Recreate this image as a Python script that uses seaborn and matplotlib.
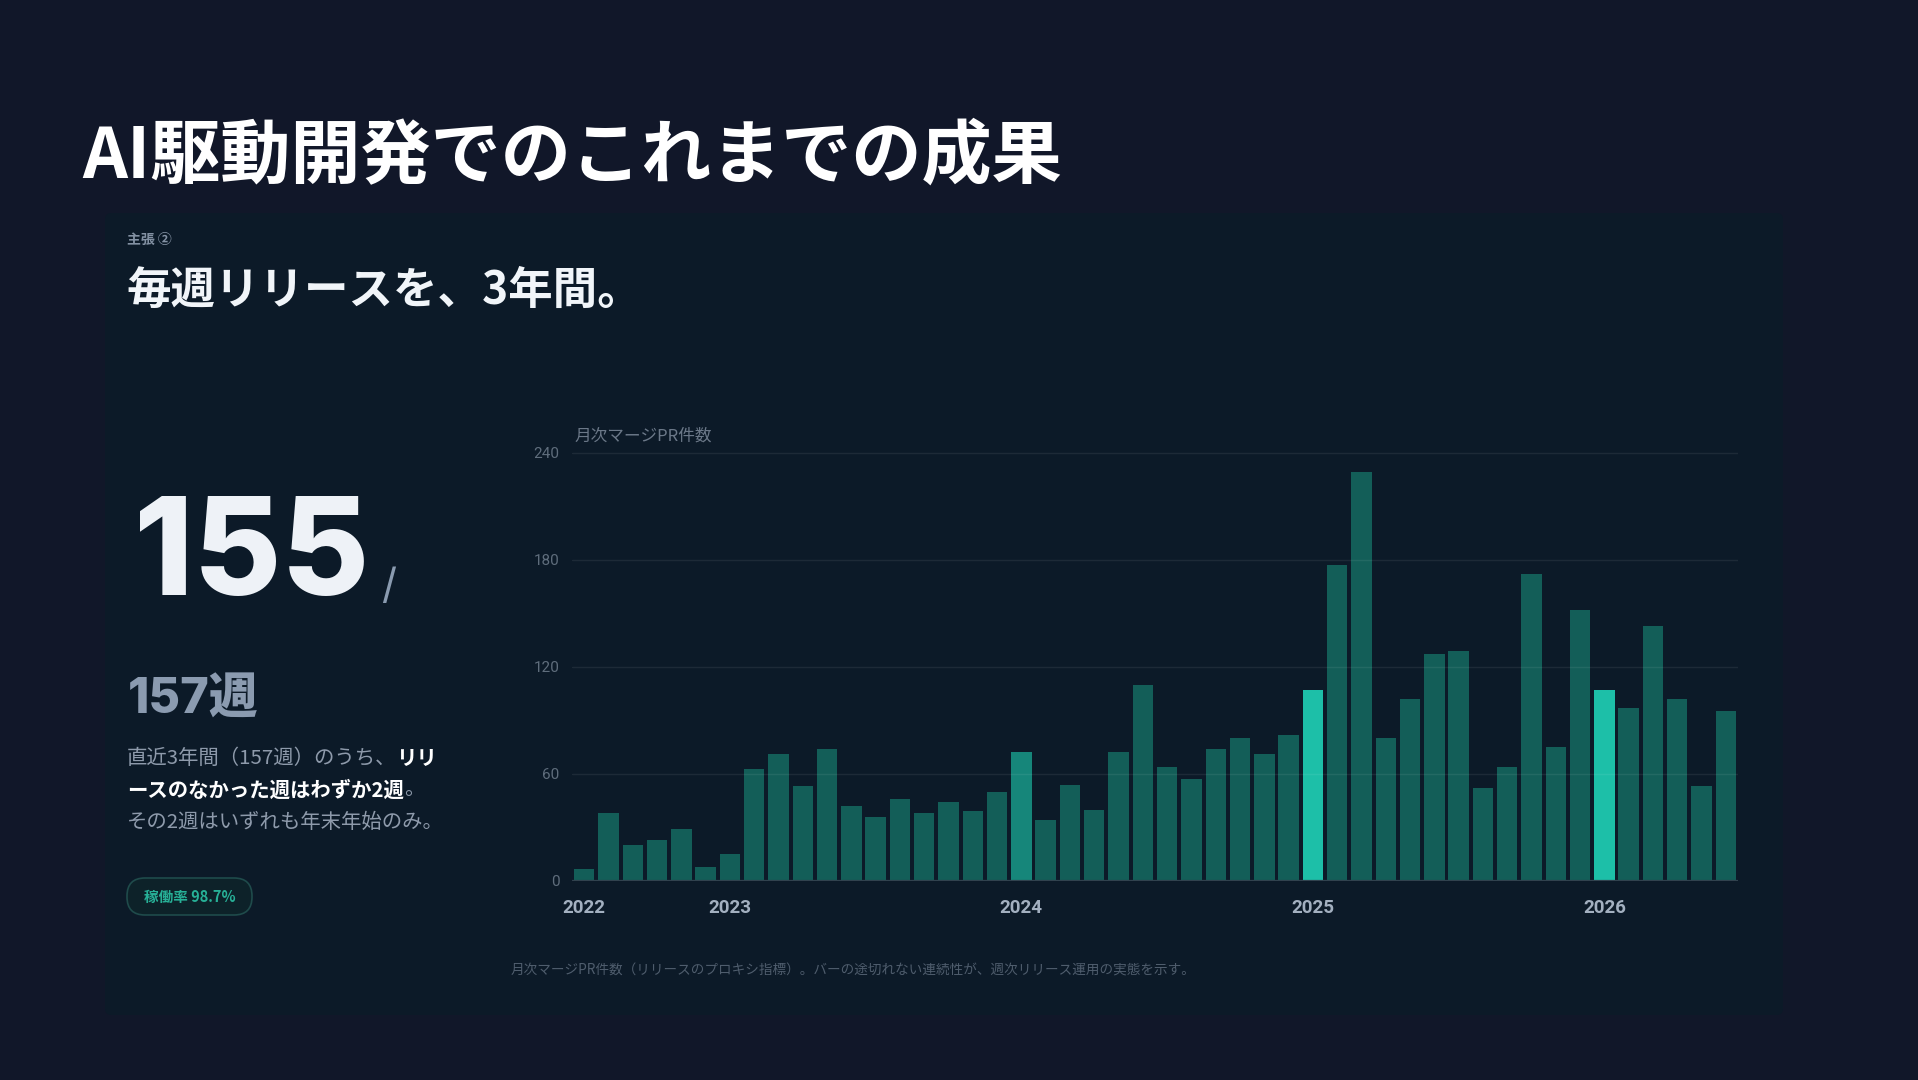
import matplotlib
matplotlib.use("Agg")
import matplotlib.pyplot as plt
from matplotlib.patches import FancyBboxPatch
import pandas as pd
import seaborn as sns

# monthly merged PR counts, 2022-07 .. 2026-06
months = [f"{y}-{m:02d}" for y in range(2022, 2027) for m in range(1, 13)][6:54]
pr_counts = [7, 38, 20, 23, 29, 8,
             15, 63, 71, 53, 74, 42, 36, 46, 38, 44, 39, 50,
             72, 34, 54, 40, 72, 110, 64, 57, 74, 80, 71, 82,
             107, 177, 229, 80, 102, 127, 129, 52, 64, 172, 75, 152,
             107, 97, 143, 102, 53, 95]
# highlight level per bar
tone = ["base"] * 48
tone[18] = "mid"
tone[30] = "hi"
tone[42] = "hi"
year_ticks = [0, 6, 18, 30, 42]
year_labels = ["2022", "2023", "2024", "2025", "2026"]
y_ticks = [0, 60, 120, 180, 240]

palette = {"base": "#135e58", "mid": "#16867a", "hi": "#1dbfa8"}

sns.set_theme(style="dark")
plt.rcParams["font.family"] = ["Noto Sans CJK JP", "DejaVu Sans"]

BG = "#111729"
fig = plt.figure(figsize=(19.18, 10.8), dpi=100, facecolor=BG)

# full-figure layer in pixel coordinates for the card and texts
bg = fig.add_axes([0, 0, 1, 1])
bg.set_xlim(0, 1918)
bg.set_ylim(1080, 0)
bg.axis("off")
bg.set_facecolor(BG)
bg.add_patch(FancyBboxPatch((105, 213), 1678, 802, boxstyle="round,pad=0,rounding_size=6",
                            fc="#0c1a28", ec="none"))

bg.text(82, 157, "AI駆動開発でのこれまでの成果", fontsize=50.5, fontweight="bold",
        color="#ffffff", va="center", ha="left")
bg.text(127, 240, "主張 ②", fontsize=10, fontweight="bold", color="#8391a3", va="center")
bg.text(126, 291, "毎週リリースを、3年間。", fontsize=32, fontweight="bold",
        color="#f1f5f9", va="center")

bg.text(134, 595, "155", fontsize=97, fontweight="heavy", color="#eef2f7",
        va="baseline", family=["Inter", "DejaVu Sans"])
bg.text(381, 598, "/", fontsize=30, color="#8a9bb0", va="baseline",
        family=["Inter", "DejaVu Sans"])
bg.text(128, 714, "157週", fontsize=35, fontweight="heavy", color="#8b9bb0",
        va="baseline", family=["Inter", "Noto Sans CJK JP"])

NORMAL = "#8e9aab"
STRONG = "#ffffff"


def line(parts, x, y):
    t = None
    for s, strong in parts:
        kw = dict(fontsize=14.7, color=STRONG if strong else NORMAL,
                  fontweight="bold" if strong else "normal", va="center", ha="left")
        if t is None:
            t = bg.text(x, y, s, **kw)
        else:
            t = bg.annotate(s, xy=(1, 0.5), xycoords=t, **kw)


line([("直近3年間（157週）のうち、", False), ("リリ", True)], 127, 758)
line([("ースのなかった週はわずか2週", True), ("。", False)], 127, 790)
line([("その2週はいずれも年末年始のみ。", False)], 127, 822)

bg.add_patch(FancyBboxPatch((127, 878), 125, 37, boxstyle="round,pad=0,rounding_size=18",
                            fc="#0d2229", ec="#1f4b4b", lw=1.2))
bg.text(189.5, 897, "稼働率 98.7%", fontsize=10.5, fontweight="bold", color="#27b097",
        ha="center", va="center")

bg.text(574, 436, "月次マージPR件数", fontsize=12, color="#6b7888", va="center")
bg.text(511, 971, "月次マージPR件数（リリースのプロキシ指標）。バーの途切れない連続性が、週次リリース運用の実態を示す。",
        fontsize=9.8, color="#4f5d6d", va="center")

# bar chart
ax = fig.add_axes([572 / 1918, 199 / 1080, 1166 / 1918, 435.5 / 1080])
df = pd.DataFrame({"month": months, "prs": pr_counts, "tone": tone})
sns.barplot(data=df, x="month", y="prs", hue="tone", palette=palette, width=0.84,
            legend=False, ax=ax, saturation=1, edgecolor="none", linewidth=0)
ax.set_facecolor("none")
ax.set_xlim(-0.5, 47.5)
ax.set_ylim(0, 244)
ax.set_yticks(y_ticks)
ax.set_xticks(year_ticks)
ax.set_xticklabels(year_labels)
ax.set_xlabel("")
ax.set_ylabel("")
ax.yaxis.grid(True, color="#ffffff", alpha=0.07, lw=1)
ax.xaxis.grid(False)
ax.set_axisbelow(False)
ax.axhline(0, color="#2e3f4c", lw=1.6)
for s in ax.spines.values():
    s.set_visible(False)
ax.tick_params(axis="y", length=0, pad=9, labelsize=11, labelcolor="#5f6d7c")
ax.tick_params(axis="x", length=0, pad=13, labelsize=13.5, labelcolor="#a3b0c0")
for lab in ax.get_yticklabels():
    lab.set_family(["Roboto", "DejaVu Sans"])
for lab in ax.get_xticklabels():
    lab.set_family(["Roboto", "DejaVu Sans"])
    lab.set_fontweight("bold")

fig.savefig("out.png", dpi=100, facecolor=BG)
